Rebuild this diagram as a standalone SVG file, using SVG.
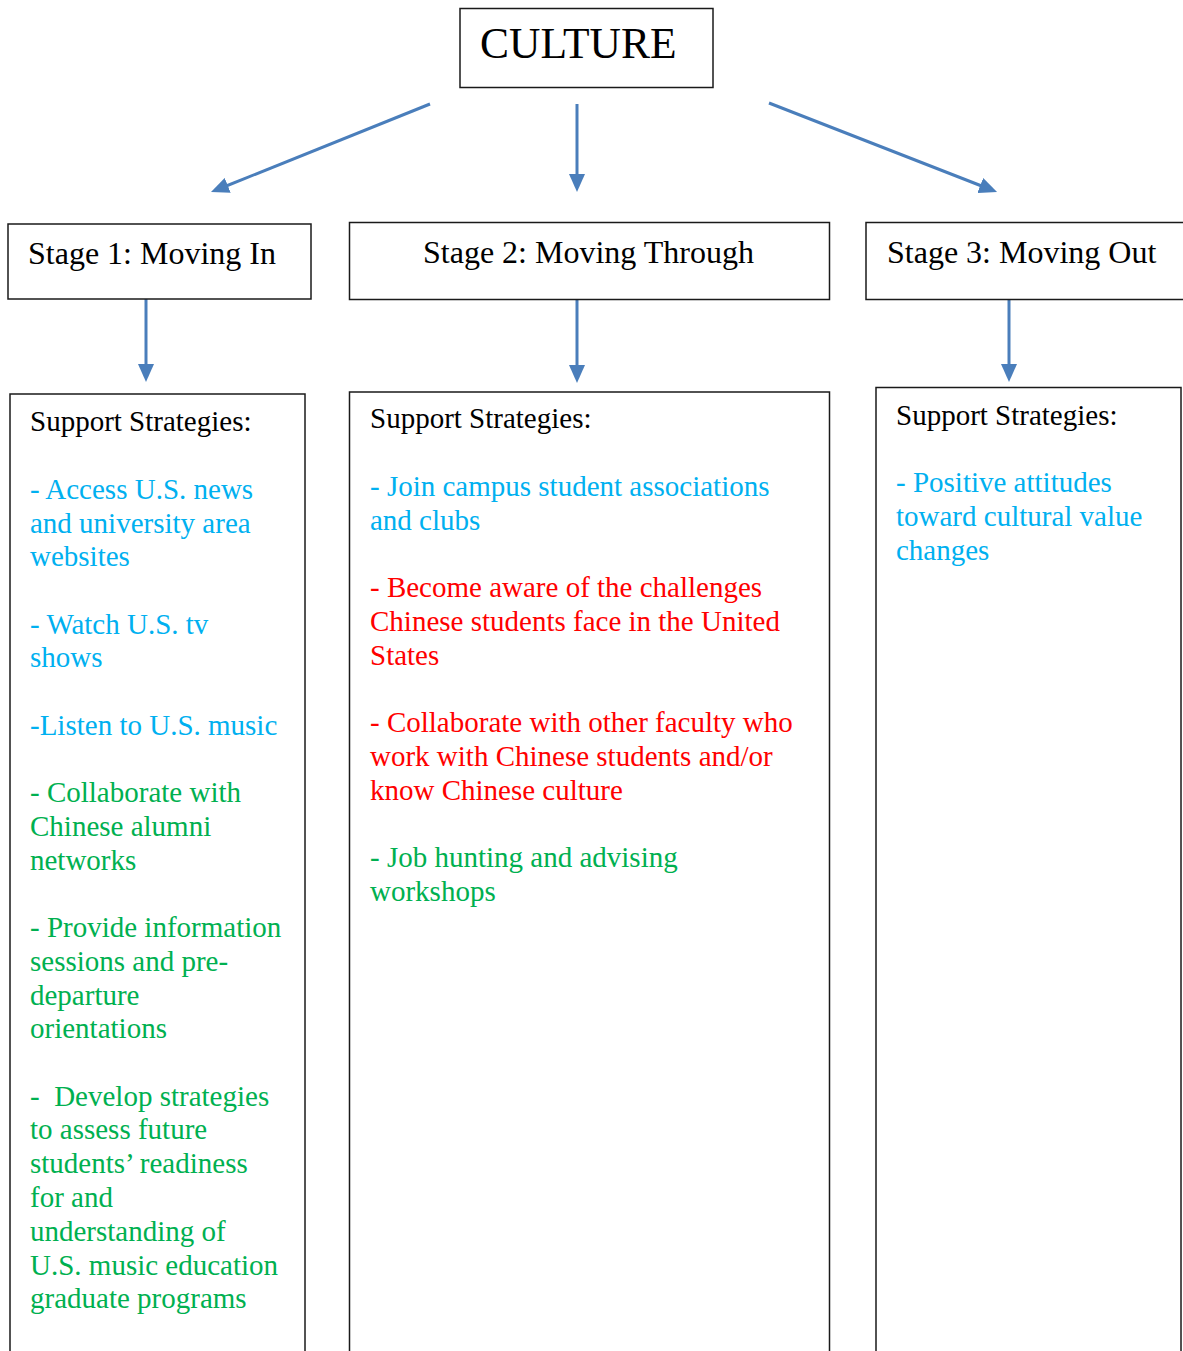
<svg xmlns="http://www.w3.org/2000/svg" width="1183" height="1351" viewBox="0 0 1183 1351">
<style>
.box{fill:#fff;stroke:#1a1a1a;stroke-width:1.5}
.t{font-family:"Liberation Serif","Times New Roman",serif;white-space:pre}
.title{font-size:43.5px;fill:#000}
.stage{font-size:32px;fill:#000}
.body{font-size:29px}
.k{fill:#000}
.b{fill:#00B0F0}
.r{fill:#FF0000}
.g{fill:#00B050}
.conn{stroke:#4A7EBB;stroke-width:3;fill:none}
</style>
<defs>
<marker id="ah" markerUnits="userSpaceOnUse" markerWidth="18" markerHeight="16" refX="7" refY="8" orient="auto">
<path d="M0,0 L18,8 L0,16 z" fill="#4A7EBB"/>
</marker>
</defs>
<rect width="1183" height="1351" fill="#fff"/>
<g id="connectors">
<line class="conn" x1="430" y1="104" x2="221.2" y2="188" marker-end="url(#ah)"/>
<line class="conn" x1="577" y1="104" x2="577" y2="181" marker-end="url(#ah)"/>
<line class="conn" x1="769" y1="103" x2="986.8" y2="188" marker-end="url(#ah)"/>
<line class="conn" x1="146" y1="299" x2="146" y2="371" marker-end="url(#ah)"/>
<line class="conn" x1="577" y1="299" x2="577" y2="372" marker-end="url(#ah)"/>
<line class="conn" x1="1009" y1="299" x2="1009" y2="371" marker-end="url(#ah)"/>
</g>
<g id="culture">
<rect class="box" x="460" y="8.5" width="253" height="79"/>
<text class="t title" x="480" y="58">CULTURE</text>
</g>
<g id="stage1">
<rect class="box" x="8" y="224" width="303" height="75"/>
<text class="t stage" x="28" y="264">Stage 1: Moving In</text>
</g>
<g id="stage2">
<rect class="box" x="349.5" y="222.5" width="480" height="77"/>
<text class="t stage" x="423" y="263">Stage 2: Moving Through</text>
</g>
<g id="stage3">
<rect class="box" x="866" y="222.5" width="330" height="77"/>
<text class="t stage" x="887" y="263">Stage 3: Moving Out</text>
</g>
<g id="strategies1">
<rect class="box" x="10" y="394" width="295" height="980"/>
<text class="t body k" x="30" y="431">Support Strategies:</text>
<text class="t body b" x="30" y="499">- Access U.S. news</text>
<text class="t body b" x="30" y="533">and university area</text>
<text class="t body b" x="30" y="566">websites</text>
<text class="t body b" x="30" y="634">- Watch U.S. tv</text>
<text class="t body b" x="30" y="667">shows</text>
<text class="t body b" x="30" y="735">-Listen to U.S. music</text>
<text class="t body g" x="30" y="802">- Collaborate with</text>
<text class="t body g" x="30" y="836">Chinese alumni</text>
<text class="t body g" x="30" y="870">networks</text>
<text class="t body g" x="30" y="937">- Provide information</text>
<text class="t body g" x="30" y="971">sessions and pre-</text>
<text class="t body g" x="30" y="1005">departure</text>
<text class="t body g" x="30" y="1038">orientations</text>
<text class="t body g" x="30" y="1106">-  Develop strategies</text>
<text class="t body g" x="30" y="1139">to assess future</text>
<text class="t body g" x="30" y="1173">students’ readiness</text>
<text class="t body g" x="30" y="1207">for and</text>
<text class="t body g" x="30" y="1241">understanding of</text>
<text class="t body g" x="30" y="1275">U.S. music education</text>
<text class="t body g" x="30" y="1308">graduate programs</text>
</g>
<g id="strategies2">
<rect class="box" x="349.5" y="392" width="480" height="980"/>
<text class="t body k" x="370" y="428">Support Strategies:</text>
<text class="t body b" x="370" y="496">- Join campus student associations</text>
<text class="t body b" x="370" y="530">and clubs</text>
<text class="t body r" x="370" y="597">- Become aware of the challenges</text>
<text class="t body r" x="370" y="631">Chinese students face in the United</text>
<text class="t body r" x="370" y="665">States</text>
<text class="t body r" x="370" y="732">- Collaborate with other faculty who</text>
<text class="t body r" x="370" y="766">work with Chinese students and/or</text>
<text class="t body r" x="370" y="800">know Chinese culture</text>
<text class="t body g" x="370" y="867">- Job hunting and advising</text>
<text class="t body g" x="370" y="901">workshops</text>
</g>
<g id="strategies3">
<rect class="box" x="876" y="387.5" width="305" height="985"/>
<text class="t body k" x="896" y="425">Support Strategies:</text>
<text class="t body b" x="896" y="492">- Positive attitudes</text>
<text class="t body b" x="896" y="526">toward cultural value</text>
<text class="t body b" x="896" y="560">changes</text>
</g>
</svg>
